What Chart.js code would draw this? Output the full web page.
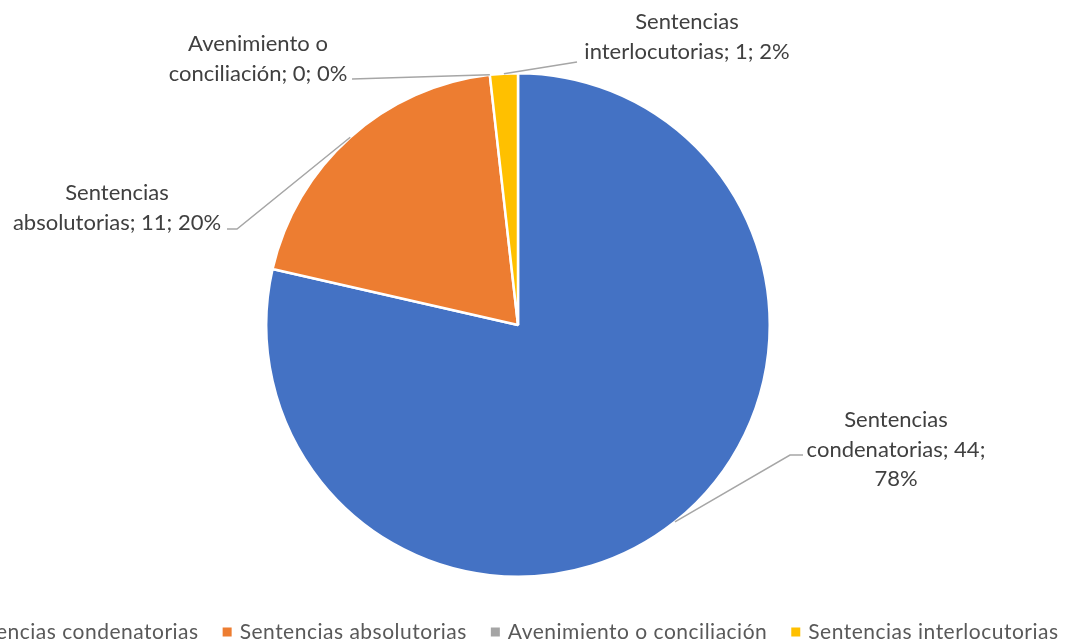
<!DOCTYPE html>
<html>
<head>
<meta charset="utf-8">
<script src="https://cdn.jsdelivr.net/npm/chart.js@4/dist/chart.umd.min.js"></script>
<style>
  body { margin: 0; background: #fff; }
  canvas { display: block; }
</style>
</head>
<body>
<canvas id="myChart" width="1077" height="641"></canvas>
<script>
const categories = ['Sentencias condenatorias', 'Sentencias absolutorias', 'Avenimiento o conciliación', 'Sentencias interlocutorias'];
const counts = [44, 11, 0, 1];
const percentLabels = ['78%', '20%', '0%', '2%'];
const colors = ['#4472C4', '#ED7D31', '#A5A5A5', '#FFC000'];

// texto de las etiquetas (mismo corte de línea que el original)
const labelLines = [
    ['Sentencias', 'condenatorias; ' + counts[0] + ';', percentLabels[0]],
    ['Sentencias', 'absolutorias; ' + counts[1] + '; ' + percentLabels[1]],
    ['Avenimiento o', 'conciliación; ' + counts[2] + '; ' + percentLabels[2]],
    ['Sentencias', 'interlocutorias; ' + counts[3] + '; ' + percentLabels[3]]
];

// posición del texto y de la línea guía de cada etiqueta
const labelPlace = [
    { x: 896, y: 420, path: [[790, 455], [803, 455]] },
    { x: 117, y: 193, path: [[237, 229], [227, 229]] },
    { x: 258, y: 44,  path: [[352, 79]] },
    { x: 687, y: 22,  path: [[577, 62]] }
];

const FONT = '"Lato", "Liberation Sans", sans-serif';

const sliceLabels = {
    id: 'sliceLabels',
    afterDatasetsDraw(chart) {
        const ctx = chart.ctx;
        const arcs = chart.getDatasetMeta(0).data;
        ctx.save();
        arcs.forEach((arc, i) => {
            const p = labelPlace[i];
            const mid = (arc.startAngle + arc.endAngle) / 2;
            const sx = arc.x + Math.cos(mid) * arc.outerRadius;
            const sy = arc.y + Math.sin(mid) * arc.outerRadius;
            ctx.strokeStyle = '#A6A6A6';
            ctx.lineWidth = 1.5;
            ctx.beginPath();
            ctx.moveTo(sx, sy);
            p.path.forEach(pt => ctx.lineTo(pt[0], pt[1]));
            ctx.stroke();

            ctx.fillStyle = '#404040';
            ctx.font = '22px ' + FONT;
            ctx.textAlign = 'center';
            ctx.textBaseline = 'middle';
            labelLines[i].forEach((line, k) => {
                ctx.fillText(line, p.x, p.y + k * 29.5);
            });
        });
        ctx.restore();
    }
};

// leyenda propia: en el original es más ancha que el gráfico y se corta a la izquierda
const bottomLegend = {
    id: 'bottomLegend',
    afterDraw(chart) {
        const ctx = chart.ctx;
        ctx.save();
        ctx.font = '21px ' + FONT;
        ctx.letterSpacing = '0.5px';
        const box = 9, gapBox = 8, gapItem = 24;
        const widths = categories.map(c => ctx.measureText(c).width);
        let total = 0;
        widths.forEach(w => total += box + gapBox + w);
        total += gapItem * (categories.length - 1);
        let x = 497 - total / 2;
        const y = 632;
        ctx.textBaseline = 'middle';
        ctx.textAlign = 'left';
        categories.forEach((c, i) => {
            ctx.fillStyle = colors[i];
            ctx.fillRect(x, y - box / 2, box, box);
            x += box + gapBox;
            ctx.fillStyle = '#595959';
            ctx.fillText(c, x, y);
            x += widths[i] + gapItem;
        });
        ctx.restore();
    }
};

const data = {
    labels: categories,
    datasets: [{
        data: counts,
        backgroundColor: colors,
        borderColor: '#ffffff',
        borderWidth: 2.5
    }]
};

const config = {
    type: 'pie',
    data: data,
    options: {
        responsive: false,
        animation: false,
        layout: {
            padding: { top: 72, bottom: 63, left: 265, right: 306 }
        },
        plugins: {
            legend: { display: false },
            tooltip: { enabled: false }
        }
    },
    plugins: [sliceLabels, bottomLegend]
};

const myChart = new Chart(document.getElementById('myChart'), config);
</script>
</body>
</html>
